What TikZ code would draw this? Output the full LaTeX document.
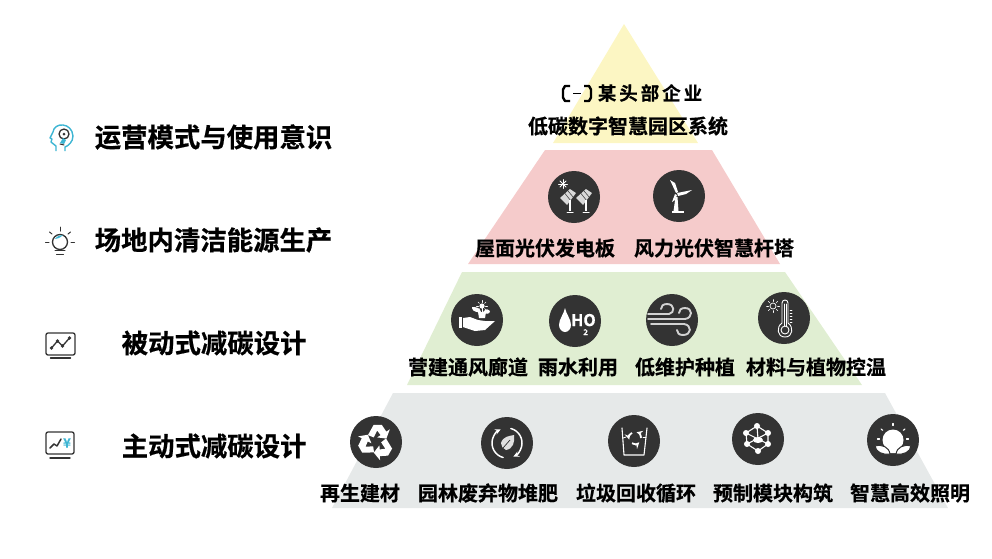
\documentclass[tikz,border=0pt]{standalone}
\usepackage{fontspec}
\setmainfont[FakeBold=0.6]{Noto Sans CJK SC Bold}
\usepackage{xcolor}
\definecolor{tieryellow}{HTML}{FCF6C3}
\definecolor{tierpink}{HTML}{F5CBCB}
\definecolor{tiergreen}{HTML}{E0EED2}
\definecolor{tiergrey}{HTML}{E6E9E9}
\definecolor{icondark}{HTML}{333333}
\definecolor{iconblue}{HTML}{3DB5D3}
\definecolor{windgrey}{HTML}{D2D2D2}
\begin{document}
\begin{tikzpicture}[
    x=1pt, y=-1pt,
    badge/.style={circle, fill=icondark, minimum size=52pt, inner sep=0pt},
    label/.style={font=\fontsize{20}{24}\selectfont, inner sep=0pt},
    heading/.style={font=\fontsize{26.4}{30}\selectfont, inner sep=0pt, anchor=west},
    glyph/.style={draw=white, line width=1.3pt, line cap=round, line join=round},
    outline/.style={draw=icondark, line width=1.3pt, line cap=round, line join=round}
  ]
  \useasboundingbox (0,0) rectangle (992,558);

  % pyramid tiers
  \fill[tieryellow] (624,24) -- (698,143) -- (553,143) -- cycle;
  \fill[tierpink] (545,150) -- (712,150) -- (780,264) -- (468,264) -- cycle;
  \fill[tiergreen] (462,272) -- (785,272) -- (862,385) -- (407,385) -- cycle;
  \fill[tiergrey] (393,393) -- (885,393) -- (948,508) -- (332,508) -- cycle;

  % top tier text
  \node[inner sep=0pt, font=\fontsize{18.5}{22}\selectfont\addfontfeature{LetterSpace=16}] (company) at (650,93) {某头部企业};
  \node[label] (system) at (628,126) {低碳数字智慧园区系统};
  \coordinate (logo) at (577,93.5);
  \draw[line width=2.4pt, line join=round] ([xshift=-7pt, yshift=-7.5pt]logo) -- ([xshift=-12pt, yshift=-7.5pt]logo) -- ([xshift=-14pt, yshift=-4pt]logo) -- ([xshift=-14pt, yshift=4pt]logo) -- ([xshift=-12pt, yshift=7.5pt]logo) -- ([xshift=-7pt, yshift=7.5pt]logo);
  \draw[line width=2.4pt, line join=round] ([xshift=7pt, yshift=-7.5pt]logo) -- ([xshift=12pt, yshift=-7.5pt]logo) -- ([xshift=14pt, yshift=-4pt]logo) -- ([xshift=14pt, yshift=4pt]logo) -- ([xshift=12pt, yshift=7.5pt]logo) -- ([xshift=7pt, yshift=7.5pt]logo);
  \draw[line width=1.1pt] ([xshift=-4pt]logo) -- ([xshift=4pt]logo);

  % left headings
  \node[heading] (operate) at (94.5,137) {运营模式与使用意识};
  \node[heading] (site) at (94.5,240) {场地内清洁能源生产};
  \node[heading] (passive) at (121.5,343) {被动式减碳设计};
  \node[heading] (active) at (121.5,446) {主动式减碳设计};

  % tier labels
  \node[label] (roof) at (545,248) {屋面光伏发电板};
  \node[label] (pole) at (714,248) {风力光伏智慧杆塔};
  \node[label] (corridor) at (468,367) {营建通风廊道};
  \node[label] (rain) at (578,367) {雨水利用};
  \node[label] (planting) at (685,367) {低维护种植};
  \node[label] (insulate) at (816,367) {材料与植物控温};
  \node[label] (renew) at (360,493) {再生建材};
  \node[label] (compost) at (488,493) {园林废弃物堆肥};
  \node[label] (waste) at (636,493) {垃圾回收循环};
  \node[label] (prefab) at (773,493) {预制模块构筑};
  \node[label] (lighting) at (910,493) {智慧高效照明};

  % badges
  \node[badge] (solar) at (574,197) {};
  \node[badge] (turbine) at (679,196) {};
  \node[badge] (hand) at (477,320) {};
  \node[badge] (water) at (575,321) {};
  \node[badge] (wind) at (672,320) {};
  \node[badge] (thermo) at (784,318) {};
  \node[badge] (recycle) at (376,442) {};
  \node[badge] (leaf) at (507,443) {};
  \node[badge] (bin) at (634,441) {};
  \node[badge] (mesh) at (758,439) {};
  \node[badge] (bulb) at (893,440) {};

  % solar panels
  \begin{scope}[shift={(solar.center)}]
    \foreach \a in {0,45,...,135}
      \draw[glyph, line width=.8pt, rotate around={\a:(-11,-13)}] (-15.5,-13) -- (-6.5,-13);
    \foreach \dx in {0,16} {
      \fill[white!85!black, xshift=\dx pt] (-14,1) -- (-4,-8) -- (2,-4) -- (-7,8) -- cycle;
      \draw[draw=icondark, line width=.5pt, xshift=\dx pt] (-9,-3.5) -- (-3,4) (-6,-6) -- (0,1);
      \draw[glyph, line width=1.8pt, line cap=butt, xshift=\dx pt] (-4,3) -- (-4,14);
      \draw[glyph, line width=1pt, xshift=\dx pt] (-7,15) -- (-1,15);
    }
  \end{scope}

  % turbine
  \begin{scope}[shift={(turbine.center)}]
    \fill[white] (-3.5,1) -- (-1.5,1) -- (-0.5,15) -- (-5.5,15) -- cycle;
    \fill[white] (-3,-3) -- (-9,-16) -- (-4,-13) -- (-1,-4) -- cycle;
    \fill[white] (-2,-3) -- (13,-6) -- (7,-2) -- (-1,0) -- cycle;
    \fill[white] (-4,-2) -- (-2,-1) -- (-4,4) -- (-7,6) -- cycle;
    \fill[white] (-7,15) rectangle (5,17);
  \end{scope}

  % hand with plant
  \begin{scope}[shift={(hand.center)}]
    \fill[white] (-18,-3) rectangle (-15.5,8);
    \fill[white] (-14,-2) -- (-7,-3) -- (1,0) -- (8,1) -- (18,1) -- (8,10) -- (-2,11) -- (-14,7) -- cycle;
    \fill[white] (1,-8) -- (9,-8) -- (8,-2) -- (2,-2) -- cycle;
    \fill[white] (4,-8) .. controls (-4,-7) and (-5,-11) .. (-5,-13) .. controls (0,-13) and (3,-12) .. (4,-8) -- cycle;
    \fill[white] (6,-8) .. controls (9,-12) and (12,-11) .. (13,-9) .. controls (13,-6) and (9,-5) .. (6,-8) -- cycle;
    \fill[white] (5,-14) circle (2.6pt);
    \foreach \a in {0,45,...,315}
      \draw[glyph, line width=.6pt] (5,-14) ++(\a:3.5pt) -- ++(\a:2pt);
    \draw[glyph, line width=.8pt] (5,-12) -- (5,-8);
  \end{scope}

  % water drop
  \begin{scope}[shift={(water.center)}]
    \fill[white] (-10,-13) .. controls (-9,-7) and (-4,-2) .. (-4,4) .. controls (-4,8) and (-7,11) .. (-10,11) .. controls (-13,11) and (-16,8) .. (-16,4) .. controls (-16,-2) and (-11,-7) .. (-10,-13) -- cycle;
    \node[inner sep=0pt, anchor=base, text=white, font=\fontsize{16}{16}\selectfont] (waterHO) at (8.5,5) {H\rlap{\raisebox{-9pt}{\fontsize{8}{8}\selectfont 2}}O};
  \end{scope}

  % wind
  \begin{scope}[shift={(wind.center)}]
    \draw[glyph, draw=windgrey, line width=1.9pt] (-24,-6) -- (-3,-6) .. controls (3,-7) and (3,-16) .. (-5,-16) .. controls (-9,-16) and (-11,-14) .. (-11,-11);
    \draw[glyph, draw=windgrey, line width=1.9pt] (-24,-1) -- (13,-1) .. controls (21,-2) and (21,-12) .. (13,-12) .. controls (9,-12) and (7,-10) .. (7,-7);
    \draw[glyph, draw=windgrey, line width=1.9pt] (-21,4) -- (12,4) .. controls (20,5) and (20,15) .. (11,15) .. controls (7,15) and (5,13) .. (5,10);
  \end{scope}

  % thermometer
  \begin{scope}[shift={(thermo.center)}]
    \draw[glyph, line width=.9pt] (-2,-15) .. controls (-2,-19) and (4,-19) .. (4,-15) -- (4,5) .. controls (10,9) and (9,19) .. (1,19) .. controls (-7,19) and (-8,9) .. (-2,5) -- cycle;
    \draw[glyph, line width=.9pt] (1,12) circle (4pt);
    \draw[glyph, line width=.9pt] (0,8) -- (0,-14);
    \draw[glyph, line width=.9pt] (2,8) -- (2,-14);
    \foreach \y in {-8,-5,...,4}
      \draw[glyph, line width=.5pt] (6,\y) -- (8,\y);
    \draw[glyph, line width=.7pt] (-11,-12) circle (3pt);
    \foreach \a in {0,45,...,315}
      \draw[glyph, line width=.5pt] (-11,-12) ++(\a:4.5pt) -- ++(\a:2pt);
  \end{scope}

  % recycle arrows
  \begin{scope}[shift={(recycle.center)}, scale=1.15]
    \foreach \a in {0,120,240} {
      \begin{scope}[rotate=\a]
        \fill[white] (-7,-6) -- (-2,-15) -- (5,-15) -- (9,-9) -- (12,-11) -- (9,-3) -- (1,-4) -- (4,-6) -- (1,-10) -- (-2,-4) -- cycle;
      \end{scope}
    }
  \end{scope}

  % leaf with cycle arrows
  \begin{scope}[shift={(leaf.center)}]
    \draw[glyph, line width=1.5pt, -stealth] (-3.9,14.5) arc (255:115:15pt);
    \draw[glyph, line width=1.5pt, -stealth] (3.9,-14.5) arc (75:-65:15pt);
    \fill[white!88!black] (-6,0) .. controls (-4,-7) and (3,-7) .. (7,-8) .. controls (8,-1) and (6,6) .. (-1,7) .. controls (-4,6) and (-6,3) .. (-6,0) -- cycle;
    \draw[draw=icondark, line width=.7pt] (-4,5) -- (3,-3);
  \end{scope}

  % bin
  \begin{scope}[shift={(bin.center)}]
    \draw[glyph, line width=1.1pt] (-12,-13) -- (-10,14) -- (10,14) -- (13,-13);
    \draw[glyph, line width=.8pt] (-11,-3) -- (-8,-4);
    \draw[glyph, line width=.8pt] (9,-4) -- (12,-4);
    \begin{scope}[shift={(1,-3)}]
      \foreach \a in {0,120,240}
        \draw[glyph, line width=1.7pt, line cap=butt, -stealth] (\a:6pt) arc (\a:\a+75:6pt);
    \end{scope}
  \end{scope}

  % mesh
  \begin{scope}[shift={(mesh.center)}]
    \coordinate (meshA) at (-1,-13);
    \coordinate (meshB) at (10,-6);
    \coordinate (meshC) at (10,5);
    \coordinate (meshD) at (0,12);
    \coordinate (meshE) at (-11,5);
    \coordinate (meshF) at (-12,-6);
    \draw[glyph, line width=1.1pt] (meshA) -- (meshB) -- (meshC) -- (meshD) -- (meshE) -- (meshF) -- cycle;
    \draw[glyph, line width=1.1pt] (meshF) -- (meshC) (meshB) -- (meshE) (meshA) -- (0,0);
    \foreach \p in {meshA,meshB,meshC,meshD,meshE,meshF}
      \fill[white] (\p) circle (3pt);
    \fill[white] (0,1) ellipse (5pt and 3pt);
  \end{scope}

  % bulb with leaves
  \begin{scope}[shift={(bulb.center)}]
    \fill[white] (0,0) circle (10.5pt);
    \fill[white] (-7,6) -- (7,6) -- (4,13) -- (-4,13) -- cycle;
    \foreach \a in {0,40,90,140,180}
      \draw[glyph, line width=1.1pt] (0,-1) ++(\a:13.5pt) -- ++(\a:2pt);
    \fill[white, draw=icondark, line width=1pt] (-3,14) .. controls (-11,15) and (-17,12) .. (-18,6) .. controls (-11,4) and (-4,7) .. (-3,14) -- cycle;
    \fill[white, draw=icondark, line width=1pt] (3,14) .. controls (11,15) and (17,12) .. (18,6) .. controls (11,4) and (4,7) .. (3,14) -- cycle;
  \end{scope}

  % head icon
  \begin{scope}[shift={(62,137)}]
    \draw[draw=iconblue, line width=1.4pt, line join=round] (-6,14) -- (-6,9) -- (-11,5) -- (-10,2) -- (-12,1) -- (-9,-5) .. controls (-8,-15) and (10,-15) .. (11,-1) .. controls (11,5) and (6,9) .. (3,10) -- (3,14);
    \draw[outline] (2,-3) circle (5pt);
    \fill[icondark] (2,-3) circle (1.5pt);
    \fill[iconblue] (-2,6) -- (1,1) -- (4,3) -- (2,7) -- cycle;
    \draw[outline, line width=1pt] (-2,7) -- (2,8);
  \end{scope}

  % bulb icon
  \begin{scope}[shift={(60,242)}]
    \draw[outline] (0,0) circle (7.5pt);
    \fill[iconblue] (-5,-3) .. controls (-3,-6) and (0,-7) .. (3,-7) .. controls (0,-4) and (-3,-3) .. (-5,-3) -- cycle;
    \draw[outline, line width=1pt] (-14.5,0) -- (-11,0);
    \draw[outline, line width=1pt] (11,0) -- (14.5,0);
    \draw[outline, line width=1pt] (0,-15) -- (0,-11);
    \draw[outline, line width=1pt] (-10.5,-10) -- (-8,-8);
    \draw[outline, line width=1pt] (10.5,-10) -- (8,-8);
    \draw[outline, line width=1pt] (-5,8.5) -- (5,8.5);
    \draw[outline, line width=1pt] (-3.5,12) -- (3.5,12);
  \end{scope}

  % monitor with line
  \begin{scope}[shift={(60.5,344)}]
    \draw[outline, rounded corners=2pt] (-14.5,-11) rectangle (14.5,11);
    \draw[outline, line width=1.4pt] (-10,14) -- (10,14);
    \draw[outline] (-9,4) -- (-3,-3) -- (2,2) -- (9,-6);
    \foreach \p in {(-9,4),(-3,-3),(2,2),(9,-6)}
      \fill[icondark] \p circle (1.8pt);
  \end{scope}

  % monitor with yen
  \begin{scope}[shift={(60,443)}]
    \draw[outline, rounded corners=2pt] (-14,-11) rectangle (14,11);
    \draw[outline, line width=1.4pt] (-10,15) -- (10,15);
    \draw[outline, line width=1.5pt] (-10,5) -- (-6,1) -- (-3,3) -- (1,-4);
    \node[inner sep=0pt, text=iconblue, font=\fontsize{13}{13}\selectfont] (yen) at (7,0) {¥};
  \end{scope}
\end{tikzpicture}
\end{document}
